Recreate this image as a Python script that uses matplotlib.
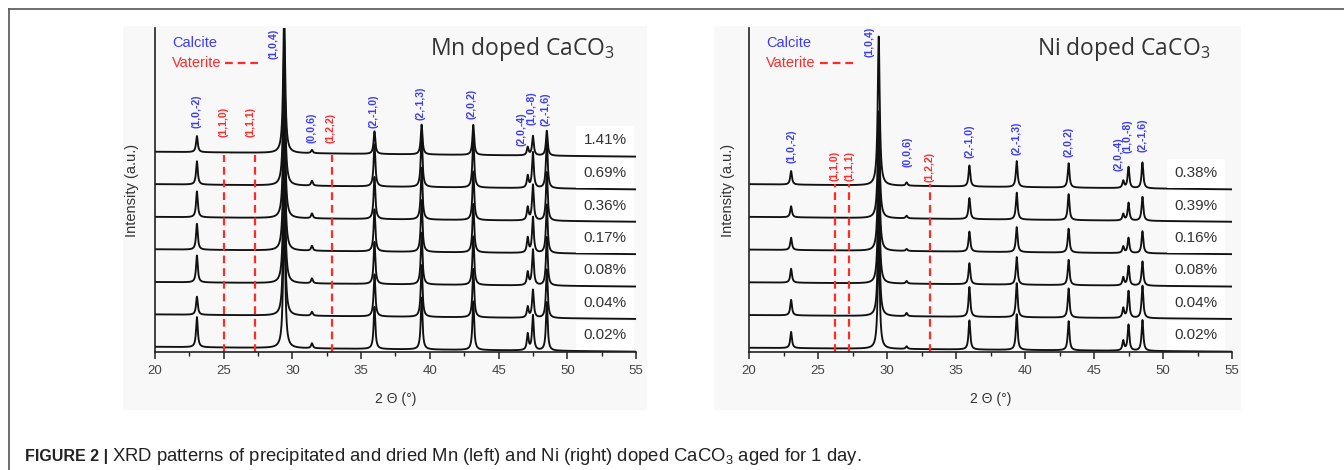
import numpy as np
import matplotlib
matplotlib.use("Agg")
import matplotlib.pyplot as plt
from matplotlib.patches import Rectangle
from matplotlib.lines import Line2D

plt.rcParams['font.family'] = ['Liberation Sans', 'DejaVu Sans']
plt.rcParams['mathtext.default'] = 'regular'

# ---------------- data ----------------
two_theta_range = [20, 55]
peak_pos = [23.05, 29.40, 31.42, 35.97, 39.40, 43.16, 47.12, 47.50, 48.51]
peak_fwhm = [0.15, 0.17, 0.15, 0.15, 0.15, 0.15, 0.15, 0.15, 0.15]

mn_labels = ['1.41%', '0.69%', '0.36%', '0.17%', '0.08%', '0.04%', '0.02%']
mn_heights = [
    [0.50, 4.5, 0.10, 0.70, 0.92, 0.93, 0.25, 0.60, 0.77],
    [0.72, 4.5, 0.15, 1.30, 1.60, 1.50, 0.37, 1.10, 1.50],
    [0.80, 4.5, 0.15, 1.30, 1.60, 1.50, 0.40, 1.10, 1.50],
    [0.80, 4.5, 0.15, 1.30, 1.60, 1.50, 0.46, 1.10, 1.50],
    [0.83, 4.5, 0.15, 1.30, 1.60, 1.50, 0.40, 1.10, 1.50],
    [0.56, 4.5, 0.12, 1.30, 1.60, 1.50, 0.33, 0.86, 1.50],
    [0.93, 4.5, 0.15, 1.30, 1.60, 1.50, 0.50, 1.08, 1.50],
]
mn_base_start = [6.18, 5.18, 4.17, 3.17, 2.16, 1.16, 0.16]
mn_base_end = [6.03, 5.02, 4.02, 3.02, 2.02, 1.02, 0.01]

ni_labels = ['0.38%', '0.39%', '0.16%', '0.08%', '0.04%', '0.02%']
ni_heights = [
    [0.42, 4.6, 0.10, 0.65, 0.80, 0.75, 0.22, 0.65, 0.80],
    [0.34, 3.3, 0.08, 0.65, 0.83, 0.80, 0.20, 0.55, 0.74],
    [0.38, 3.3, 0.06, 0.62, 0.77, 0.74, 0.20, 0.47, 0.68],
    [0.43, 3.3, 0.08, 0.65, 0.85, 0.78, 0.25, 0.60, 0.75],
    [0.48, 3.3, 0.10, 0.92, 1.05, 0.90, 0.30, 0.83, 1.00],
    [0.50, 3.3, 0.08, 0.90, 1.10, 0.90, 0.30, 0.80, 0.95],
]
ni_base_start = [5.18, 4.17, 3.16, 2.15, 1.14, 0.13]
ni_base_end = [5.02, 4.02, 3.02, 2.02, 1.02, 0.01]

hkl_text = ['(1,0,-2)', '(1,1,0)', '(1,1,1)', '(1,0,4)', '(0,0,6)', '(1,2,2)',
            '(2,-1,0)', '(2,-1,3)', '(2,0,2)', '(2,0,-4)', '(1,0,-8)', '(2,-1,6)']
hkl_phase = ['C', 'V', 'V', 'C', 'C', 'V', 'C', 'C', 'C', 'C', 'C', 'C']
mn_hkl_x = [23.05, 25.0, 26.95, 28.6, 31.4, 32.8, 35.9, 39.3, 43.05, 46.7, 47.4, 48.45]
mn_hkl_y = [6.91, 6.64, 6.64, 9.04, 6.45, 6.45, 6.91, 7.16, 7.19, 6.36, 7.0, 6.98]
ni_hkl_x = [23.05, 26.2, 27.25, 28.75, 31.45, 33.1, 35.95, 39.4, 43.15, 46.8, 47.45, 48.5]
ni_hkl_y = [5.83, 5.28, 5.28, 9.1, 5.7, 5.25, 6.0, 6.08, 6.02, 5.59, 6.14, 6.17]

mn_vaterite = [25.05, 27.25, 32.9]
ni_vaterite = [26.2, 27.25, 33.1]
mn_vaterite_top = 6.08
ni_vaterite_top = 5.17

panel_titles = ['Mn doped CaCO$_3$', 'Ni doped CaCO$_3$']

BLUE = '#3b3bff'
RED = '#ff2b2b'
TXT = '#333333'

W, H = 1344, 470
fig = plt.figure(figsize=(W / 100, H / 100), dpi=100)


def fx(px):
    return px / W


def fy(py):
    return 1 - py / H


# frame
fig.add_artist(Line2D([fx(9), 1], [fy(9), fy(9)], color='#555555', lw=1.2))
fig.add_artist(Line2D([fx(9), fx(9)], [fy(9), 0], color='#555555', lw=1.2))

# panel backgrounds
for x0, x1 in [(123, 647), (714, 1241)]:
    fig.add_artist(Rectangle((fx(x0), fy(410)), fx(x1 - x0), (410 - 26) / H,
                             facecolor='#f8f8f8', edgecolor='none', zorder=0))

x = np.arange(two_theta_range[0], two_theta_range[1] + 0.0025, 0.0025)


def trace(heights, b0, b1):
    y = b0 + (b1 - b0) * (x - 20) / 35.0
    for p, h, w in zip(peak_pos, heights, peak_fwhm):
        g = w / 2
        y = y + h * g * g / ((x - p) ** 2 + g * g)
    return y


def draw_panel(rect, heights, b0s, b1s, labels, hx, hy, vat, vat_top, title,
               label_x, leg_dash, ylab_x):
    ax = fig.add_axes(rect)
    ax.set_facecolor('none')
    ax.set_xlim(20, 55)
    ax.set_ylim(0, 10)
    for h, b0, b1 in zip(heights, b0s, b1s):
        ax.plot(x, trace(h, b0, b1), color='#111111', lw=1.35, clip_on=True)
    for v in vat:
        ax.plot([v, v], [0, vat_top], color=RED, lw=1.6, ls=(0, (3.5, 2.2)))
    for t, xx, yy, ph in zip(hkl_text, hx, hy, hkl_phase):
        ax.text(xx, yy, t, rotation=90, ha='center', va='bottom', fontsize=7.6,
                fontweight='bold', color=BLUE if ph == 'C' else RED)
    for lab, b1 in zip(labels, b1s):
        ax.text(label_x, b1 + 0.5, lab, ha='center', va='center', fontsize=11,
                color=TXT, zorder=5,
                bbox=dict(boxstyle='square,pad=0.5', fc='white', ec='none'))
    ax.text(0.035, 0.975, 'Calcite', transform=ax.transAxes, color=BLUE,
            fontsize=10.5, ha='left', va='top')
    ax.text(0.035, 0.915, 'Vaterite', transform=ax.transAxes, color=RED,
            fontsize=10.5, ha='left', va='top')
    ax.add_line(Line2D(leg_dash, [0.893, 0.893], transform=ax.transAxes,
                       color=RED, lw=1.6, ls=(0, (3.5, 2.2))))
    ax.text(0.955, 0.935, title, transform=ax.transAxes, ha='right', va='center',
            fontsize=16.5, color=TXT, family=['Open Sans', 'DejaVu Sans'])
    for s in ['top', 'right']:
        ax.spines[s].set_visible(False)
    for s in ['left', 'bottom']:
        ax.spines[s].set_color('#222222')
        ax.spines[s].set_linewidth(1.2)
    ax.set_yticks([])
    ax.set_xticks([20, 25, 30, 35, 40, 45, 50, 55])
    ax.set_xticks(np.arange(20, 55.1, 2.5), minor=True)
    ax.tick_params(axis='x', which='major', direction='out', length=5, width=1.1,
                   color='#222222', labelsize=9.5, labelcolor='#444444', pad=4)
    ax.tick_params(axis='x', which='minor', direction='out', length=3, width=1.0,
                   color='#222222')
    ax.set_xlabel('2 Θ (°)', fontsize=10, color=TXT, labelpad=11)
    ax.set_ylabel('Intensity (a.u.)', fontsize=10.5, color=TXT)
    ax.yaxis.set_label_coords(ylab_x, 0.5)
    return ax


ax_bottom = fy(352)
ax_h = 324 / H
draw_panel([fx(155), ax_bottom, fx(481), ax_h], mn_heights, mn_base_start,
           mn_base_end, mn_labels, mn_hkl_x, mn_hkl_y, mn_vaterite,
           mn_vaterite_top, panel_titles[0], 52.75, [0.145, 0.215], -0.033)
draw_panel([fx(749), ax_bottom, fx(483), ax_h], ni_heights, ni_base_start,
           ni_base_end, ni_labels, ni_hkl_x, ni_hkl_y, ni_vaterite,
           ni_vaterite_top, panel_titles[1], 52.4, [0.147, 0.221], -0.028)

# caption
cap_y = fy(461)
t1 = fig.text(fx(25), cap_y, 'FIGURE 2 |', fontsize=11.5, fontweight='bold',
              color='#222222', ha='left', va='baseline')
fig.canvas.draw()
bb = t1.get_window_extent()
fig.text((bb.x1 + 4) / W, cap_y,
         'XRD patterns of precipitated and dried Mn (left) and Ni (right) doped '
         'CaCO$_3$ aged for 1 day.', fontsize=13.3, color='#222222', ha='left',
         va='baseline')

fig.savefig('out.png', dpi=100)
